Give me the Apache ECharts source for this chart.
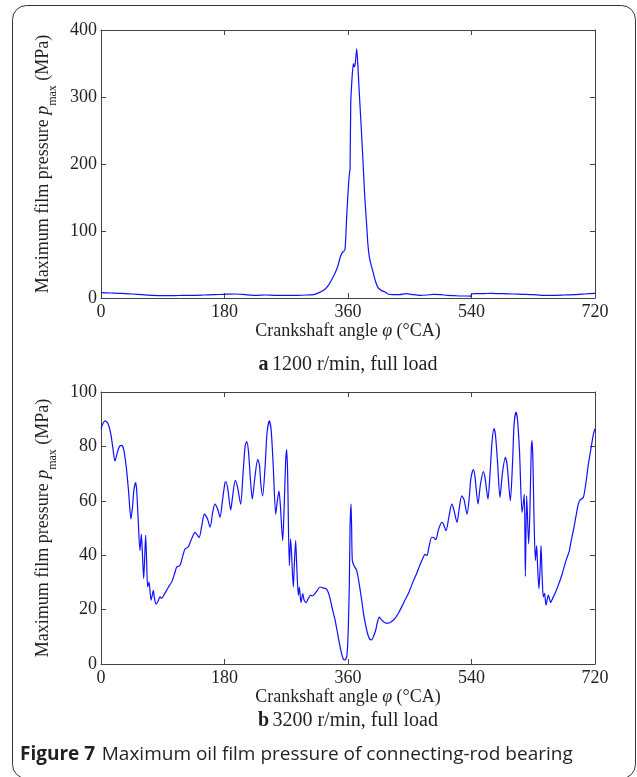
<!DOCTYPE html>
<html>
<head>
<meta charset="utf-8">
<script src="https://cdn.jsdelivr.net/npm/echarts@6/dist/echarts.min.js"></script>
<style>
html,body{margin:0;padding:0;background:#fff;}
#chart{width:637px;height:777px;}
</style>
</head>
<body>
<div id="chart"></div>
<script>
// ---- Data ----
const xTicks = [0, 180, 360, 540, 720];
const yTicksTop = [0, 100, 200, 300, 400];
const yTicksBottom = [0, 20, 40, 60, 80, 100];

// (a) 1200 r/min, full load
const anglesA = [0,15,30,45,60,75,90,105,120,135,150,165,180,195,210,225,240,255,270,285,300,310,318,325,330,335,341,345,349,352,355.6,358,360.5,362,363,364,366,367.8,369,370.5,372.7,374.5,376.5,379,382,384.5,387,389,391,394,397,400,404,409,414,418,425,435,445,455,465,475,485,495,505,515,525,535,539,540,545,555,570,585,600,615,630,645,660,675,690,705,720];
const pressureA = [8,7.5,7,6,5,4,3.5,3.5,4,4,4.5,5,5.5,6,5,4,4.5,4,4,4,4.5,5,8,12,17,25,37,47,62,68,72,120,165,185,192,290,330,350,345,350,372,345,305,260,201,150,112,80,62,48,37,25,15,11,9,6,5,5,6.5,5,4,4.5,5.5,5,4,3.5,3,3,2.5,6,6.5,6.5,7,6.5,6,5.5,5,4,4,4.5,5,6,7];

// (b) 3200 r/min, full load
const anglesB = [0,3,6,10,14,17,20.4,24,27,30,33,37,40,43.7,46,48,50.5,52,54,56.8,58.8,60.5,62.2,63.5,65.1,66.5,68,70,72.9,74.5,76.3,78,80.2,83,86,88.4,92,95.7,100,103,107,110.3,115,119,122.4,127,132,137,140,143,147,150.6,155,159,163,166,170,173.5,177,180.7,182.2,185,189,192,195.7,199,203.6,207,210,212.3,215,218,220.5,224,228.4,231,233,235.6,239,242,245.3,248,251,254.6,257,259.4,261.5,264.8,267,269,270.6,272,274.5,276.4,280.3,281.5,283.7,285,287.6,289,291.5,294,296,298.8,302,305.6,308,311.9,315,319.2,323,328,331,333.8,337,341.1,345,348.4,351,353.2,355.5,358.1,359.5,360.5,362,363,364.4,365.3,366.3,369,372.6,376,379.9,383,387.2,390,392,394.5,397,400.4,403,405.7,408,411.6,415,418.9,423,428.5,433,438.3,442,445.6,449,452.8,456,460.1,465,469.9,472,475,478,482,485,487.8,492,496.6,499,502.9,507,511.2,514,518.9,522,525.8,529,533.6,537,539,542.7,545,549.5,553,557.3,560,564,567,570,572.8,575,578,581.5,585,589.3,592,596.6,600,602,604.9,607,610,613.6,615,617,618.5,620.4,623.3,625,627,628.2,629.5,631,633.1,634.9,636.5,638.3,640,641.3,643,644.7,646.5,648.6,652,655.4,658,661.7,665,669,672,676.3,679,682.6,685,688.4,692,695.7,699,703,707,710.3,714,717.6,720];
const pressureB = [86.5,88.5,89.4,88.5,85,80,74.6,78,80,80.4,79,72,64,53.3,58,64,66.7,64,54,41.7,47.8,40,31.4,38,47.3,38,28.3,30.1,23.5,25,27.1,24,22,23,24.7,24.1,25.5,27.1,29,30.1,33,35.6,36.2,39.5,42.3,43,46,48.4,47.5,46.5,51,55.1,53.5,50.3,56,58.8,57,53.9,60,66.7,67,64,56.6,62,67.5,65,58.8,70,80,81.9,78,67,60.6,68,75.2,73,66,61.8,72,85,89.4,86,73,55.1,60,63.6,58,45.4,58,74,78.8,70,36.2,46,28.3,35,45.4,38,25.3,28.3,22.6,25.9,23.5,22.6,24,25.3,25,25.9,27,28.3,28,27.7,26.5,24.1,20.5,16.2,11,6.4,3.5,1.8,1.5,2.7,7,14,30,50.3,58.8,50,38.1,36,34.4,30,23.5,18,12.5,10,9,8.9,10,12.5,15.5,17.2,16.5,15.6,15,15,15.5,16.8,18.5,21,23,24.7,26.5,29,31,33.3,36.5,39.3,40.3,39.9,43,46.6,46.5,45.7,49.5,52.1,51.5,49,54,58.8,57,52.1,57,61.8,60.5,55.1,62,68,71.5,69,58.8,66,70.7,68,60.6,70,82,86.5,84,74,61.2,70,76,73,60,75,88,92.6,90,78,55.7,58,62.4,32.2,61.8,44.2,55,78,82.1,75,55,38.1,43.5,35,27.7,35,43.5,32,24.7,26,21.6,25.3,22.6,24,25.9,28,30.7,33,36.8,39,41.6,45,49,54,58.8,60.5,61.2,67,73.4,79,84.4,86.5];

const zip = (xs, ys) => xs.map((x, i) => [x, ys[i]]);

// ---- Styles ----
const SERIF = "'Liberation Serif', 'Times New Roman', serif";
const SANS = "'Open Sans', 'Noto Sans', sans-serif";
const TXT = '#231f20';
const FRAME = '#444';
const tickFont = { fontFamily: SERIF, fontSize: 18, color: TXT };
const lineAx = { show: true, onZero: false, lineStyle: { color: FRAME, width: 1 } };
const tickIn = { show: true, inside: true, length: 5, lineStyle: { color: FRAME } };

function xAxes(gridIndex) {
  return [
    {
      gridIndex, type: 'value', min: 0, max: 720, interval: 180, position: 'bottom',
      axisLine: lineAx, axisTick: tickIn,
      axisLabel: Object.assign({ margin: 5 }, tickFont),
      splitLine: { show: false },
      name: '{n|Crankshaft angle }{i|φ}{n| (°CA)}',
      nameLocation: 'middle', nameGap: 18,
      nameTextStyle: {
        fontFamily: SERIF, fontSize: 18, color: TXT,
        rich: { n: { fontFamily: SERIF, fontSize: 18, color: TXT }, i: { fontFamily: SERIF, fontSize: 18, fontStyle: 'italic', color: TXT } }
      }
    },
    {
      gridIndex, type: 'value', min: 0, max: 720, interval: 180, position: 'top',
      axisLine: lineAx, axisTick: tickIn,
      axisLabel: { show: false }, splitLine: { show: false }
    }
  ];
}
function yAxes(gridIndex, max, interval) {
  const nameRich = {
    n: { fontFamily: SERIF, fontSize: 18, color: TXT, lineHeight: 20 },
    i: { fontFamily: SERIF, fontSize: 18, fontStyle: 'italic', color: TXT, lineHeight: 20 },
    s: { fontFamily: SERIF, fontSize: 12, color: TXT, verticalAlign: 'bottom', lineHeight: 12, padding: [0, 0, -6, 0] }
  };
  return [
    {
      gridIndex, type: 'value', min: 0, max, interval, position: 'left',
      axisLine: lineAx, axisTick: tickIn,
      axisLabel: Object.assign({ margin: 4 }, tickFont),
      splitLine: { show: false },
      name: '{n|Maximum film pressure }{i|p}{s|max}{n| (MPa)}',
      nameLocation: 'middle', nameRotate: 90, nameGap: 42,
      nameTextStyle: { fontFamily: SERIF, fontSize: 18, color: TXT, rich: nameRich }
    },
    {
      gridIndex, type: 'value', min: 0, max, interval, position: 'right',
      axisLine: lineAx, axisTick: tickIn,
      axisLabel: { show: false }, splitLine: { show: false }
    }
  ];
}

const chart = echarts.init(document.getElementById('chart'), null, { renderer: 'canvas' });
const lineStyle = { color: '#1010ff', width: 1.2 };

chart.setOption({
  backgroundColor: '#fff',
  animation: false,
  grid: [
    { left: 101, top: 30, width: 494, height: 268, containLabel: false },
    { left: 101, top: 392, width: 494, height: 272, containLabel: false }
  ],
  xAxis: [...xAxes(0), ...xAxes(1)],
  yAxis: [...yAxes(0, 400, 100), ...yAxes(1, 100, 20)],
  series: [
    { type: 'line', xAxisIndex: 0, yAxisIndex: 0, data: zip(anglesA, pressureA), showSymbol: false, smooth: 0.2, lineStyle, itemStyle: { color: '#1010ff' } },
    { type: 'line', xAxisIndex: 2, yAxisIndex: 2, data: zip(anglesB, pressureB), showSymbol: false, smooth: 0.25, lineStyle, itemStyle: { color: '#1010ff' } }
  ],
  graphic: [
    { type: 'rect', shape: { x: 12.5, y: 5.5, width: 623, height: 773, r: 14 }, style: { fill: 'none', stroke: '#333', lineWidth: 1 }, silent: true },
    { type: 'text', x: 348, y: 365, style: { text: '{b|a} {n|1200 r/min, full load}', align: 'center', verticalAlign: 'middle',
        rich: { b: { fontFamily: SERIF, fontSize: 20, fontWeight: 'bold', fill: TXT }, n: { fontFamily: SERIF, fontSize: 20, fill: TXT } } } },
    { type: 'text', x: 348, y: 721, style: { text: '{b|b} {n|3200 r/min, full load}', align: 'center', verticalAlign: 'middle',
        rich: { b: { fontFamily: SERIF, fontSize: 20, fontWeight: 'bold', fill: TXT }, n: { fontFamily: SERIF, fontSize: 20, fill: TXT } } } },
    { type: 'text', x: 20, y: 755, style: { text: '{b|Figure 7}  {n|Maximum oil film pressure of connecting-rod bearing}', align: 'left', verticalAlign: 'middle',
        rich: { b: { fontFamily: SANS, fontSize: 19, fontWeight: 'bold', fill: TXT }, n: { fontFamily: SANS, fontSize: 19, fill: TXT } } } }
  ]
});
</script>
</body>
</html>
